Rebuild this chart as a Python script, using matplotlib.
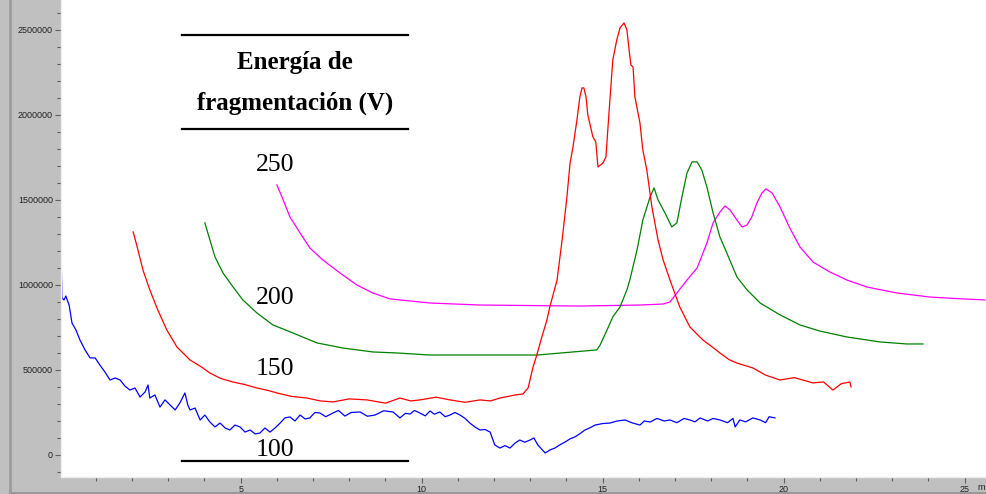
import matplotlib.pyplot as plt
from matplotlib.lines import Line2D

t100 = [0.04, 0.06, 0.12, 0.17, 0.26, 0.34, 0.45, 0.56, 0.70, 0.84, 0.98, 1.11, 1.25, 1.39, 1.53,
        1.67, 1.80, 1.94, 2.08, 2.22, 2.36, 2.44, 2.49, 2.63, 2.77, 2.91, 3.05, 3.19, 3.32, 3.46,
        3.54, 3.60, 3.74, 3.88, 4.01, 4.15, 4.29, 4.43, 4.57, 4.70, 4.84, 4.98, 5.12, 5.26, 5.40,
        5.53, 5.67, 5.81, 5.95, 6.09, 6.22, 6.36, 6.50, 6.64, 6.78, 6.91, 7.05, 7.19, 7.35, 7.55,
        7.70, 7.88, 8.05, 8.30, 8.50, 8.71, 8.95, 9.21, 9.40, 9.55, 9.68, 9.80, 9.95, 10.10, 10.23,
        10.35, 10.50, 10.65, 10.78, 10.92, 11.06, 11.20, 11.33, 11.47, 11.61, 11.75, 11.89, 12.02,
        12.16, 12.30, 12.44, 12.58, 12.71, 12.85, 12.99, 13.10, 13.21, 13.41, 13.55, 13.68, 13.82,
        13.96, 14.10, 14.23, 14.37, 14.51, 14.65, 14.79, 15.00, 15.20, 15.40, 15.62, 15.80, 16.03,
        16.15, 16.31, 16.50, 16.70, 16.86, 17.05, 17.25, 17.41, 17.55, 17.69, 17.90, 18.05, 18.24,
        18.45, 18.60, 18.66, 18.79, 18.95, 19.15, 19.35, 19.50, 19.60, 19.76]
i100 = [1176, 924, 912, 935, 882, 776, 735, 676, 618, 571, 571, 529, 488, 441, 453,
        441, 406, 382, 394, 341, 371, 412, 335, 353, 282, 324, 294, 265, 306, 365,
        294, 265, 276, 206, 235, 194, 165, 188, 159, 147, 176, 165, 135, 147, 124,
        129, 159, 135, 159, 188, 218, 224, 200, 235, 212, 218, 250, 247, 225, 247,
        262, 229, 250, 253, 228, 235, 260, 253, 218, 245, 241, 262, 247, 230, 259,
        240, 253, 225, 235, 250, 235, 215, 188, 165, 147, 150, 135, 59,
        41, 55, 41, 70, 88, 75, 88, 100, 59, 12, 30, 41, 60,
        76, 95, 106, 125, 147, 160, 176, 185, 188, 200, 206, 190, 176,
        200, 194, 215, 200, 206, 190, 215, 206, 195, 218, 200, 215, 206,
        190, 215, 165, 206, 195, 218, 206, 190, 225, 218]

t150 = [2.03, 2.14, 2.30, 2.49, 2.71, 2.96, 3.24, 3.60, 3.90, 4.15, 4.45, 4.79, 5.10, 5.45, 5.75,
        6.00, 6.40, 6.83, 7.20, 7.55, 8.00, 8.49, 9.00, 9.40, 9.70, 9.95, 10.40, 10.78, 11.20,
        11.61, 11.90, 12.16, 12.40, 12.58, 12.80, 12.94, 13.07, 13.18, 13.32, 13.46, 13.54, 13.74,
        13.88, 14.01, 14.10, 14.18, 14.29, 14.37, 14.43, 14.48, 14.54, 14.59, 14.73, 14.81, 14.87,
        15.01, 15.09, 15.20, 15.28, 15.39, 15.48, 15.59, 15.67, 15.73, 15.78, 15.84, 15.89, 16.03,
        16.11, 16.22, 16.36, 16.53, 16.67, 16.86, 17.13, 17.41, 17.77, 18.00, 18.24, 18.50, 18.71,
        18.95, 19.15, 19.50, 19.90, 20.30, 20.81, 21.10, 21.36, 21.60, 21.83, 21.86]
i150 = [1312, 1224, 1088, 971, 853, 735, 635, 559, 520, 482, 450, 429, 415, 394, 380,
        365, 345, 335, 318, 312, 330, 324, 305, 335, 318, 324, 340, 324, 310,
        324, 318, 335, 345, 353, 359, 394, 512, 588, 694, 794, 871, 1029,
        1265, 1512, 1718, 1812, 1971, 2106, 2159, 2159, 2106, 2000, 1871, 1841, 1694,
        1718, 1753, 2088, 2324, 2441, 2512, 2541, 2500, 2382, 2294, 2282, 2106, 1953,
        1794, 1676, 1459, 1265, 1147, 1029, 871, 753, 676, 640, 600, 560, 541,
        525, 512, 470, 441, 455, 424, 430, 382, 420, 429, 400]

t200 = [4.01, 4.15, 4.29, 4.51, 4.79, 5.06, 5.45, 5.89, 6.44, 7.11, 7.83, 8.65, 9.32, 10.23,
        11.61, 13.19, 14.18, 14.84, 14.93, 15.12, 15.28, 15.48, 15.67, 15.75, 15.95, 16.11,
        16.31, 16.42, 16.53, 16.72, 16.91, 17.05, 17.19, 17.33, 17.47, 17.61, 17.74, 17.88,
        18.05, 18.24, 18.43, 18.71, 18.99, 19.35, 19.90, 20.45, 21.00, 21.75, 22.66, 23.40, 23.85]
i200 = [1365, 1265, 1165, 1071, 988, 912, 835, 765, 718, 659, 629, 606, 600, 588,
        588, 588, 606, 618, 647, 735, 812, 871, 971, 1029, 1206, 1382,
        1518, 1571, 1500, 1424, 1341, 1365, 1518, 1659, 1724, 1724, 1676, 1576,
        1424, 1282, 1188, 1047, 971, 894, 824, 765, 729, 694, 665, 653, 653]

t250 = [6.00, 6.14, 6.36, 6.64, 6.91, 7.27, 7.74, 8.21, 8.65, 9.12, 9.40, 10.23, 11.61, 14.37,
        16.03, 16.67, 16.86, 17.05, 17.33, 17.61, 17.88, 18.05, 18.24, 18.38, 18.52, 18.71,
        18.85, 18.99, 19.12, 19.26, 19.40, 19.51, 19.68, 19.90, 20.17, 20.45, 20.81, 21.28,
        21.75, 22.30, 23.13, 24.04, 24.95, 25.56]
i250 = [1588, 1518, 1400, 1306, 1218, 1147, 1071, 1000, 953, 918, 912, 894, 882, 876,
        882, 888, 900, 953, 1029, 1100, 1247, 1365, 1429, 1465, 1441, 1382,
        1341, 1353, 1400, 1482, 1541, 1565, 1541, 1459, 1335, 1224, 1135, 1076,
        1029, 988, 953, 929, 918, 912]

etiquetas = ['250', '200', '150', '100']
colores = ['#ff00ff', '#008000', '#ff0000', '#0000ff']

W, H = 986, 494
fig = plt.figure(figsize=(W / 100, H / 100), dpi=100)
fig.patch.set_facecolor('#c0c0c0')

ax = fig.add_axes([61 / W, (H - 477) / H, (W - 61) / W, 477 / H])
ax.set_facecolor('white')

series = [(t250, i250), (t200, i200), (t150, i150), (t100, i100)]
for (t, i), c in zip(series, colores):
    ax.plot(t, [v * 1000 for v in i], color=c, lw=0.9)

ax.set_xlim(0.036, 25.59)
ax.set_ylim(-129400, 2676000)

ax.set_xticks([5, 10, 15, 20, 25])
ax.set_xticks(range(1, 26), minor=True)
ax.set_yticks([0, 500000, 1000000, 1500000, 2000000, 2500000])
ax.set_yticklabels(['0', '500000', '1000000', '1500000', '2000000', '2500000'])
ax.set_yticks(range(-100000, 2700000, 100000), minor=True)

for lab in ax.get_xticklabels() + ax.get_yticklabels():
    lab.set_fontfamily('Liberation Sans')
    lab.set_fontsize(6.5)
    lab.set_color('#202020')
ax.tick_params(which='major', length=4.3, width=0.8, color='#606060', pad=1.5)
ax.tick_params(which='minor', length=2.8, width=0.8, color='#606060')

for s in ['top', 'right']:
    ax.spines[s].set_visible(False)
for s in ['left', 'bottom']:
    ax.spines[s].set_color('#eeeeee')
    ax.spines[s].set_linewidth(1.0)

# borde oscuro del panel
fig.add_artist(Line2D([9.5 / W, 9.5 / W], [0, 1], color='#999999', lw=1.8))
fig.add_artist(Line2D([9.5 / W, 1], [1.5 / H, 1.5 / H], color='#999999', lw=1.5))

fig.text(977 / W, 1 - 487 / H, 'm', fontsize=6.5, family='Liberation Sans',
         ha='left', va='center', color='#202020')

# leyenda a modo de tabla
for yy in [35, 129, 461]:
    fig.add_artist(Line2D([182 / W, 408 / W], [1 - yy / H, 1 - yy / H], color='black', lw=1.6))
fig.text(295 / W, 1 - 62 / H, 'Energía de', fontsize=18, family='Liberation Serif',
         weight='bold', ha='center', va='center')
fig.text(295 / W, 1 - 103 / H, 'fragmentación (V)', fontsize=18, family='Liberation Serif',
         weight='bold', ha='center', va='center')

for txt, yy in zip(etiquetas, [165, 298, 369, 450]):
    fig.text(275 / W, 1 - yy / H, txt, fontsize=18.5, family='Liberation Serif',
             ha='center', va='center')

fig.savefig('out.png', dpi=100, facecolor=fig.get_facecolor())
